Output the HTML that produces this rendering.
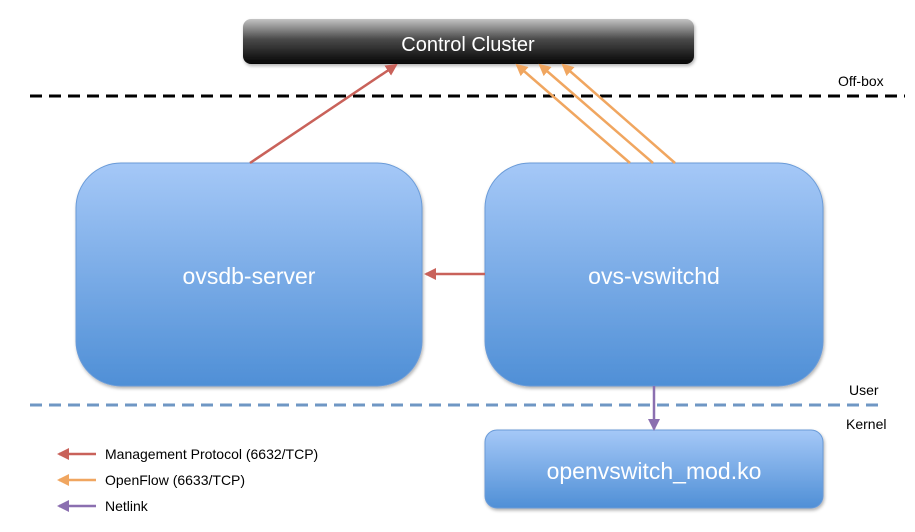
<!DOCTYPE html>
<html><head><meta charset="utf-8"><style>
html,body{margin:0;padding:0;background:#fff;width:915px;height:532px;overflow:hidden}
svg{display:block}
text{font-family:"Liberation Sans",sans-serif}
</style></head><body>
<svg width="915" height="532" viewBox="0 0 915 532" xmlns="http://www.w3.org/2000/svg">
<defs>
<linearGradient id="blk" x1="0" y1="0" x2="0" y2="1">
<stop offset="0" stop-color="#c4c4c4"/><stop offset="0.45" stop-color="#4a4a4a"/><stop offset="1" stop-color="#050505"/>
</linearGradient>
<linearGradient id="blu" x1="0" y1="0" x2="0" y2="1">
<stop offset="0" stop-color="#a5c8f7"/><stop offset="1" stop-color="#4f8fd6"/>
</linearGradient>
<filter id="sh" x="-5%" y="-5%" width="110%" height="115%"><feDropShadow dx="1" dy="2" stdDeviation="1.5" flood-opacity="0.3"/></filter>
<marker id="ar" markerWidth="12" markerHeight="12" refX="10" refY="6" orient="auto" markerUnits="userSpaceOnUse"><path d="M0,0 L12,6 L0,12 z" fill="#c9625a"/></marker>
<marker id="ao" markerWidth="12" markerHeight="12" refX="10" refY="6" orient="auto" markerUnits="userSpaceOnUse"><path d="M0,0 L12,6 L0,12 z" fill="#f0a660"/></marker>
<marker id="ap" markerWidth="12" markerHeight="12" refX="10" refY="6" orient="auto" markerUnits="userSpaceOnUse"><path d="M0,0 L12,6 L0,12 z" fill="#8b6fb0"/></marker>
</defs>

<rect x="243" y="19" width="451" height="45" rx="8" fill="url(#blk)" filter="url(#sh)"/>
<text x="468" y="51" font-size="20" fill="#fff" text-anchor="middle">Control Cluster</text>

<line x1="30" y1="96" x2="905" y2="96" stroke="#000" stroke-width="3" stroke-dasharray="12,7"/>
<text x="838" y="86" font-size="14">Off-box</text>

<rect x="76" y="163" width="346" height="223" rx="45" fill="url(#blu)" stroke="#6a9bd8" stroke-width="1" filter="url(#sh)"/>
<text x="249" y="284" font-size="23" fill="#fff" text-anchor="middle">ovsdb-server</text>
<rect x="485" y="163" width="338" height="223" rx="45" fill="url(#blu)" stroke="#6a9bd8" stroke-width="1" filter="url(#sh)"/>
<text x="654" y="284" font-size="23" fill="#fff" text-anchor="middle">ovs-vswitchd</text>
<rect x="485" y="430" width="338" height="78" rx="12" fill="url(#blu)" stroke="#6a9bd8" stroke-width="1" filter="url(#sh)"/>
<text x="654" y="479" font-size="23" fill="#fff" text-anchor="middle">openvswitch_mod.ko</text>

<line x1="30" y1="405" x2="882" y2="405" stroke="#6f97c4" stroke-width="3" stroke-dasharray="12,7"/>
<text x="849" y="395" font-size="14">User</text>
<text x="846" y="429" font-size="14">Kernel</text>

<line x1="250" y1="163" x2="396" y2="65" stroke="#c9625a" stroke-width="2.5" marker-end="url(#ar)"/>
<line x1="630" y1="163" x2="517" y2="65" stroke="#f0a660" stroke-width="2.5" marker-end="url(#ao)"/>
<line x1="653" y1="163" x2="540" y2="65" stroke="#f0a660" stroke-width="2.5" marker-end="url(#ao)"/>
<line x1="675" y1="163" x2="563" y2="65" stroke="#f0a660" stroke-width="2.5" marker-end="url(#ao)"/>
<line x1="485" y1="274" x2="426" y2="274" stroke="#c9625a" stroke-width="2.5" marker-end="url(#ar)"/>
<line x1="654" y1="386" x2="654" y2="429" stroke="#8b6fb0" stroke-width="2.5" marker-end="url(#ap)"/>

<line x1="96" y1="454" x2="59" y2="454" stroke="#c9625a" stroke-width="2.5" marker-end="url(#ar)"/>
<line x1="96" y1="480" x2="59" y2="480" stroke="#f0a660" stroke-width="2.5" marker-end="url(#ao)"/>
<line x1="96" y1="506" x2="59" y2="506" stroke="#8b6fb0" stroke-width="2.5" marker-end="url(#ap)"/>
<text x="105" y="459" font-size="14">Management Protocol (6632/TCP)</text>
<text x="105" y="485" font-size="14">OpenFlow (6633/TCP)</text>
<text x="105" y="511" font-size="14">Netlink</text>
</svg>
</body></html>
